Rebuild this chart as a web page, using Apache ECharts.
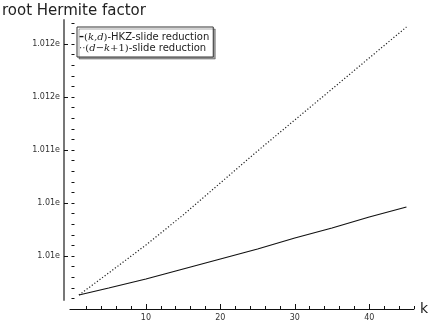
<!DOCTYPE html>
<html>
<head>
<meta charset="utf-8">
<script src="https://cdn.jsdelivr.net/npm/echarts@6/dist/echarts.min.js"></script>
<style>
  html, body { margin: 0; padding: 0; background: #fff; }
  #chart { width: 431px; height: 324px; }
</style>
</head>
<body>
<div id="chart"></div>
<script>
const kValues = [1, 5, 10, 15, 20, 25, 30, 35, 40, 45];
// (k,d)-HKZ-slide reduction
const hkzSlide = [1.009632, 1.009698, 1.009783, 1.009877, 1.009972, 1.010066, 1.010170, 1.010264, 1.010368, 1.010462];
// (d-k+1)-slide reduction
const slide = [1.009632, 1.009840, 1.010104, 1.010387, 1.010689, 1.010991, 1.011283, 1.011575, 1.011868, 1.012160];

const xTickLabels = [10, 20, 30, 40];
const xMinorTicks = [2, 4, 6, 8, 12, 14, 16, 18, 22, 24, 26, 28, 32, 34, 36, 38, 42, 44, 46];
const yTickValues = [1.0100, 1.0105, 1.0110, 1.0115, 1.0120];
const yTickLabels = ['1.01e', '1.01e', '1.011e', '1.012e', '1.012e'];
const yMinorTicks = [];
for (let i = 96; i <= 122; i++) yMinorTicks.push(+(1 + i / 10000).toFixed(4));

const font = 'DejaVu Sans, sans-serif';
const serif = 'DejaVu Serif, serif';
const xMin = -0.2, xMax = 46.0;
const yMin = 1.009585, yMax = 1.012226;

const chart = echarts.init(document.getElementById('chart'));

const baseX = {
  type: 'value', min: xMin, max: xMax, offset: 9, position: 'bottom',
  splitLine: { show: false },
};
const baseY = {
  type: 'value', min: yMin, max: yMax, offset: 6, position: 'left',
  splitLine: { show: false },
};

const option = {
  animation: false,
  backgroundColor: '#fff',
  title: {
    text: 'root Hermite factor',
    left: 2, top: 4, padding: 0,
    textStyle: { fontFamily: font, fontSize: 15, fontWeight: 'normal', color: '#222' },
  },
  grid: { left: 70, right: 13, top: 20, bottom: 24 },
  xAxis: [
    {
      ...baseX,
      name: 'k',
      nameLocation: 'end',
      nameGap: 6,
      nameTextStyle: { fontFamily: font, fontSize: 14, color: '#222', verticalAlign: 'middle' },
      axisLine: { show: true, onZero: false, lineStyle: { color: '#111', width: 1.2 } },
      axisTick: { show: true, inside: true, length: 5, customValues: xTickLabels, lineStyle: { color: '#111' } },
      axisLabel: { customValues: xTickLabels, fontFamily: font, fontSize: 8, color: '#333', margin: 5 },
    },
    {
      ...baseX,
      axisLine: { show: false },
      axisTick: { show: true, inside: true, length: 3, customValues: xMinorTicks, lineStyle: { color: '#111' } },
      axisLabel: { show: false },
    },
  ],
  yAxis: [
    {
      ...baseY,
      axisLine: { show: true, onZero: false, lineStyle: { color: '#777', width: 2 } },
      axisTick: { show: true, inside: true, length: 4, customValues: yTickValues, lineStyle: { color: '#111' } },
      axisLabel: {
        customValues: yTickValues, fontFamily: font, fontSize: 8, color: '#333', margin: 4,
        formatter: (v) => yTickLabels[yTickValues.findIndex((t) => Math.abs(t - v) < 1e-7)],
      },
    },
    {
      ...baseY,
      axisLine: { show: false },
      axisTick: { show: true, inside: true, length: 3, customValues: yMinorTicks, lineStyle: { color: '#111' } },
      axisLabel: { show: false },
    },
  ],
  legend: {
    orient: 'vertical',
    left: 77, top: 27,
    padding: [4, 4, 4, 1],
    itemGap: 0,
    icon: 'none',
    itemWidth: 0,
    itemHeight: 12,
    backgroundColor: '#fff',
    borderColor: '#333',
    borderWidth: 1,
    borderRadius: 0,
    shadowColor: 'rgba(0,0,0,0.35)',
    shadowBlur: 0,
    shadowOffsetX: 2,
    shadowOffsetY: 2,
    textStyle: {
      fontFamily: font, fontSize: 10, color: '#222', padding: [0, 0, 0, -4],
      rich: {
        s: { fontFamily: font, fontSize: 10, fontWeight: 'bold', color: '#111' },
        d: { fontFamily: font, fontSize: 10, color: '#444' },
        p: { fontFamily: serif, fontSize: 10, color: '#222' },
        i: { fontFamily: serif, fontStyle: 'italic', fontSize: 10, color: '#222' },
        t: { fontFamily: font, fontSize: 10, color: '#222' },
      },
    },
    formatter: (name) => name === 'hkz'
      ? '{s|–}{p|(}{i|k,d}{p|)}{t|-HKZ-slide reduction}'
      : '{d|··}{p|(}{i|d}{p|−}{i|k}{p|+1)}{t|-slide reduction}',
    data: ['hkz', 'slide'],
  },
  series: [
    {
      name: 'hkz',
      type: 'line',
      data: kValues.map((k, i) => [k, hkzSlide[i]]),
      symbol: 'none',
      lineStyle: { color: '#111', width: 1.2 },
      itemStyle: { color: '#111' },
    },
    {
      name: 'slide',
      type: 'line',
      data: kValues.map((k, i) => [k, slide[i]]),
      symbol: 'none',
      lineStyle: { color: '#222', width: 1.2, type: [1.2, 2] },
      itemStyle: { color: '#222' },
    },
  ],
};

chart.setOption(option);
</script>
</body>
</html>
